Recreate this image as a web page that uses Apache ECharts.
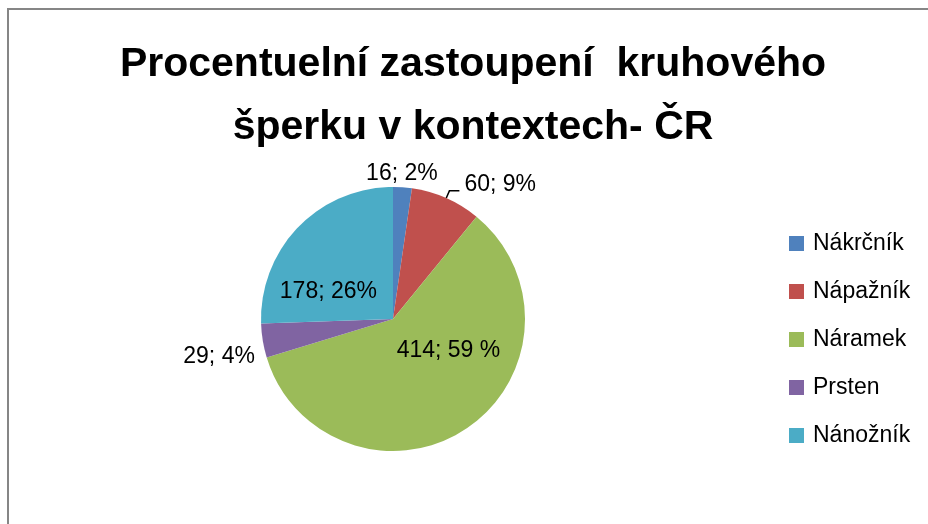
<!DOCTYPE html>
<html>
<head>
<meta charset="utf-8">
<script src="https://cdn.jsdelivr.net/npm/echarts@6/dist/echarts.min.js"></script>
<style>
  html, body { margin: 0; padding: 0; background: #fff; }
  #chart { width: 928px; height: 524px; }
</style>
</head>
<body>
<div id="chart"></div>
<script>
const categories = ['Nákrčník', 'Nápažník', 'Náramek', 'Prsten', 'Nánožník'];
const values = [16, 60, 414, 29, 178];
const labelTexts = ['16; 2%', '60; 9%', '414; 59 %', '29; 4%', '178; 26%'];
const colors = ['#4F81BD', '#C0504D', '#9BBB59', '#8064A2', '#4BACC6'];

// per-slice label placement, tuned against the reference
const labelPlacement = [
  { position: 'outside', offset: [-52, -6], line: false },
  { position: 'outside', offset: [0, -6], line: true },
  { position: 'inside', offset: [17, -26], line: false },
  { position: 'outside', offset: [15, 15], line: false },
  { position: 'inside', offset: [-15, 21], line: false }
];

const chart = echarts.init(document.getElementById('chart'));
const font = '"Liberation Sans", Arial, sans-serif';

chart.setOption({
  animation: false,
  color: colors,
  title: {
    text: 'Procentuelní zastoupení  kruhového\nšperku v kontextech- ČR',
    left: 468,
    top: 28,
    textAlign: 'center',
    textStyle: {
      fontFamily: font,
      fontWeight: 'bold',
      fontSize: 41,
      lineHeight: 63,
      color: '#000'
    }
  },
  legend: {
    orient: 'vertical',
    left: 784,
    top: 227,
    itemWidth: 15,
    itemHeight: 15,
    itemGap: 25,
    icon: 'rect',
    textStyle: { fontFamily: font, fontSize: 23, color: '#000', padding: [0, 0, 0, 4] },
    data: categories
  },
  graphic: [{
    type: 'rect',
    shape: { x: 8, y: 9, width: 1000, height: 1000 },
    style: { fill: 'none', stroke: '#868686', lineWidth: 2 },
    silent: true
  }],
  series: [{
    type: 'pie',
    center: [393, 319],
    radius: 132,
    startAngle: 90,
    clockwise: true,
    avoidLabelOverlap: false,
    labelLayout: { hideOverlap: false },
    itemStyle: { borderColor: '#fff', borderWidth: 0 },
    label: {
      fontFamily: font,
      fontSize: 23,
      color: '#000'
    },
    data: categories.map((name, i) => ({
      name: name,
      value: values[i],
      label: {
        show: true,
        position: labelPlacement[i].position,
        offset: labelPlacement[i].offset,
        formatter: labelTexts[i]
      },
      labelLine: {
        show: labelPlacement[i].line,
        length: 8,
        length2: 10,
        lineStyle: { color: '#000', width: 1.5 }
      }
    }))
  }]
});
</script>
</body>
</html>
